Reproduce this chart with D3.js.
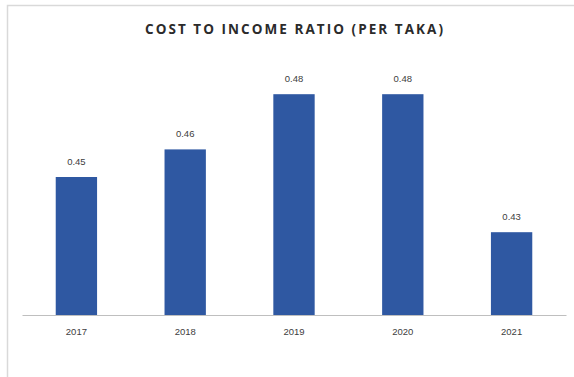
<!DOCTYPE html>
<html>
<head>
<meta charset="utf-8">
<script src="https://cdn.jsdelivr.net/npm/d3@7"></script>
<style>
  html, body { margin: 0; padding: 0; background: #fff; }
  svg { display: block; }
</style>
</head>
<body>
<svg id="chart" width="574" height="377"></svg>
<script>
// Cost to income ratio by year
const years = ["2017", "2018", "2019", "2020", "2021"];
const ratios = [0.45, 0.46, 0.48, 0.48, 0.43];
const chartTitle = "COST TO INCOME RATIO (PER TAKA)";

const svg = d3.select("#chart");
const W = 574, H = 377;

// outer frame (top and left edges visible)
svg.append("path")
  .attr("d", `M7.5,${H} L7.5,5.5 L${W},5.5`)
  .attr("fill", "none")
  .attr("stroke", "#d9d9d9")
  .attr("stroke-width", 1.5);

svg.append("text")
  .attr("x", 294)
  .attr("y", 34)
  .attr("text-anchor", "middle")
  .attr("font-family", "'Open Sans', 'DejaVu Sans', sans-serif")
  .attr("font-weight", 700)
  .attr("font-size", 13.5)
  .attr("fill", "#2b2b2b")
  .attr("textLength", 298)
  .attr("lengthAdjust", "spacing")
  .text(chartTitle);

const x = d3.scaleBand()
  .domain(years)
  .range([22, 566])
  .paddingInner(0.62)
  .paddingOuter(0.31);

const y = d3.scaleLinear()
  .domain([0.40, 0.50])
  .range([315, 39]);

svg.selectAll("rect.bar")
  .data(years.map((yr, i) => ({ yr, v: ratios[i] })))
  .join("rect")
  .attr("class", "bar")
  .attr("x", d => x(d.yr))
  .attr("y", d => y(d.v))
  .attr("width", x.bandwidth())
  .attr("height", d => y(0.40) - y(d.v))
  .attr("fill", "#2F58A2");

svg.selectAll("text.val")
  .data(years.map((yr, i) => ({ yr, v: ratios[i] })))
  .join("text")
  .attr("class", "val")
  .attr("x", d => x(d.yr) + x.bandwidth() / 2)
  .attr("y", d => y(d.v) - 12)
  .attr("text-anchor", "middle")
  .attr("font-family", "'Liberation Sans', Arial, sans-serif")
  .attr("font-size", 9.5)
  .attr("fill", "#404040")
  .text(d => d3.format(".2f")(d.v));

const xAxis = svg.append("g")
  .attr("transform", `translate(0,${y(0.40)})`)
  .call(d3.axisBottom(x).tickSize(0).tickPadding(13));
xAxis.select(".domain").attr("stroke", "#bfbfbf").attr("stroke-width", 1.2);
xAxis.selectAll("text")
  .attr("font-family", "'Liberation Sans', Arial, sans-serif")
  .attr("font-size", 9.5)
  .attr("fill", "#404040");
</script>
</body>
</html>
